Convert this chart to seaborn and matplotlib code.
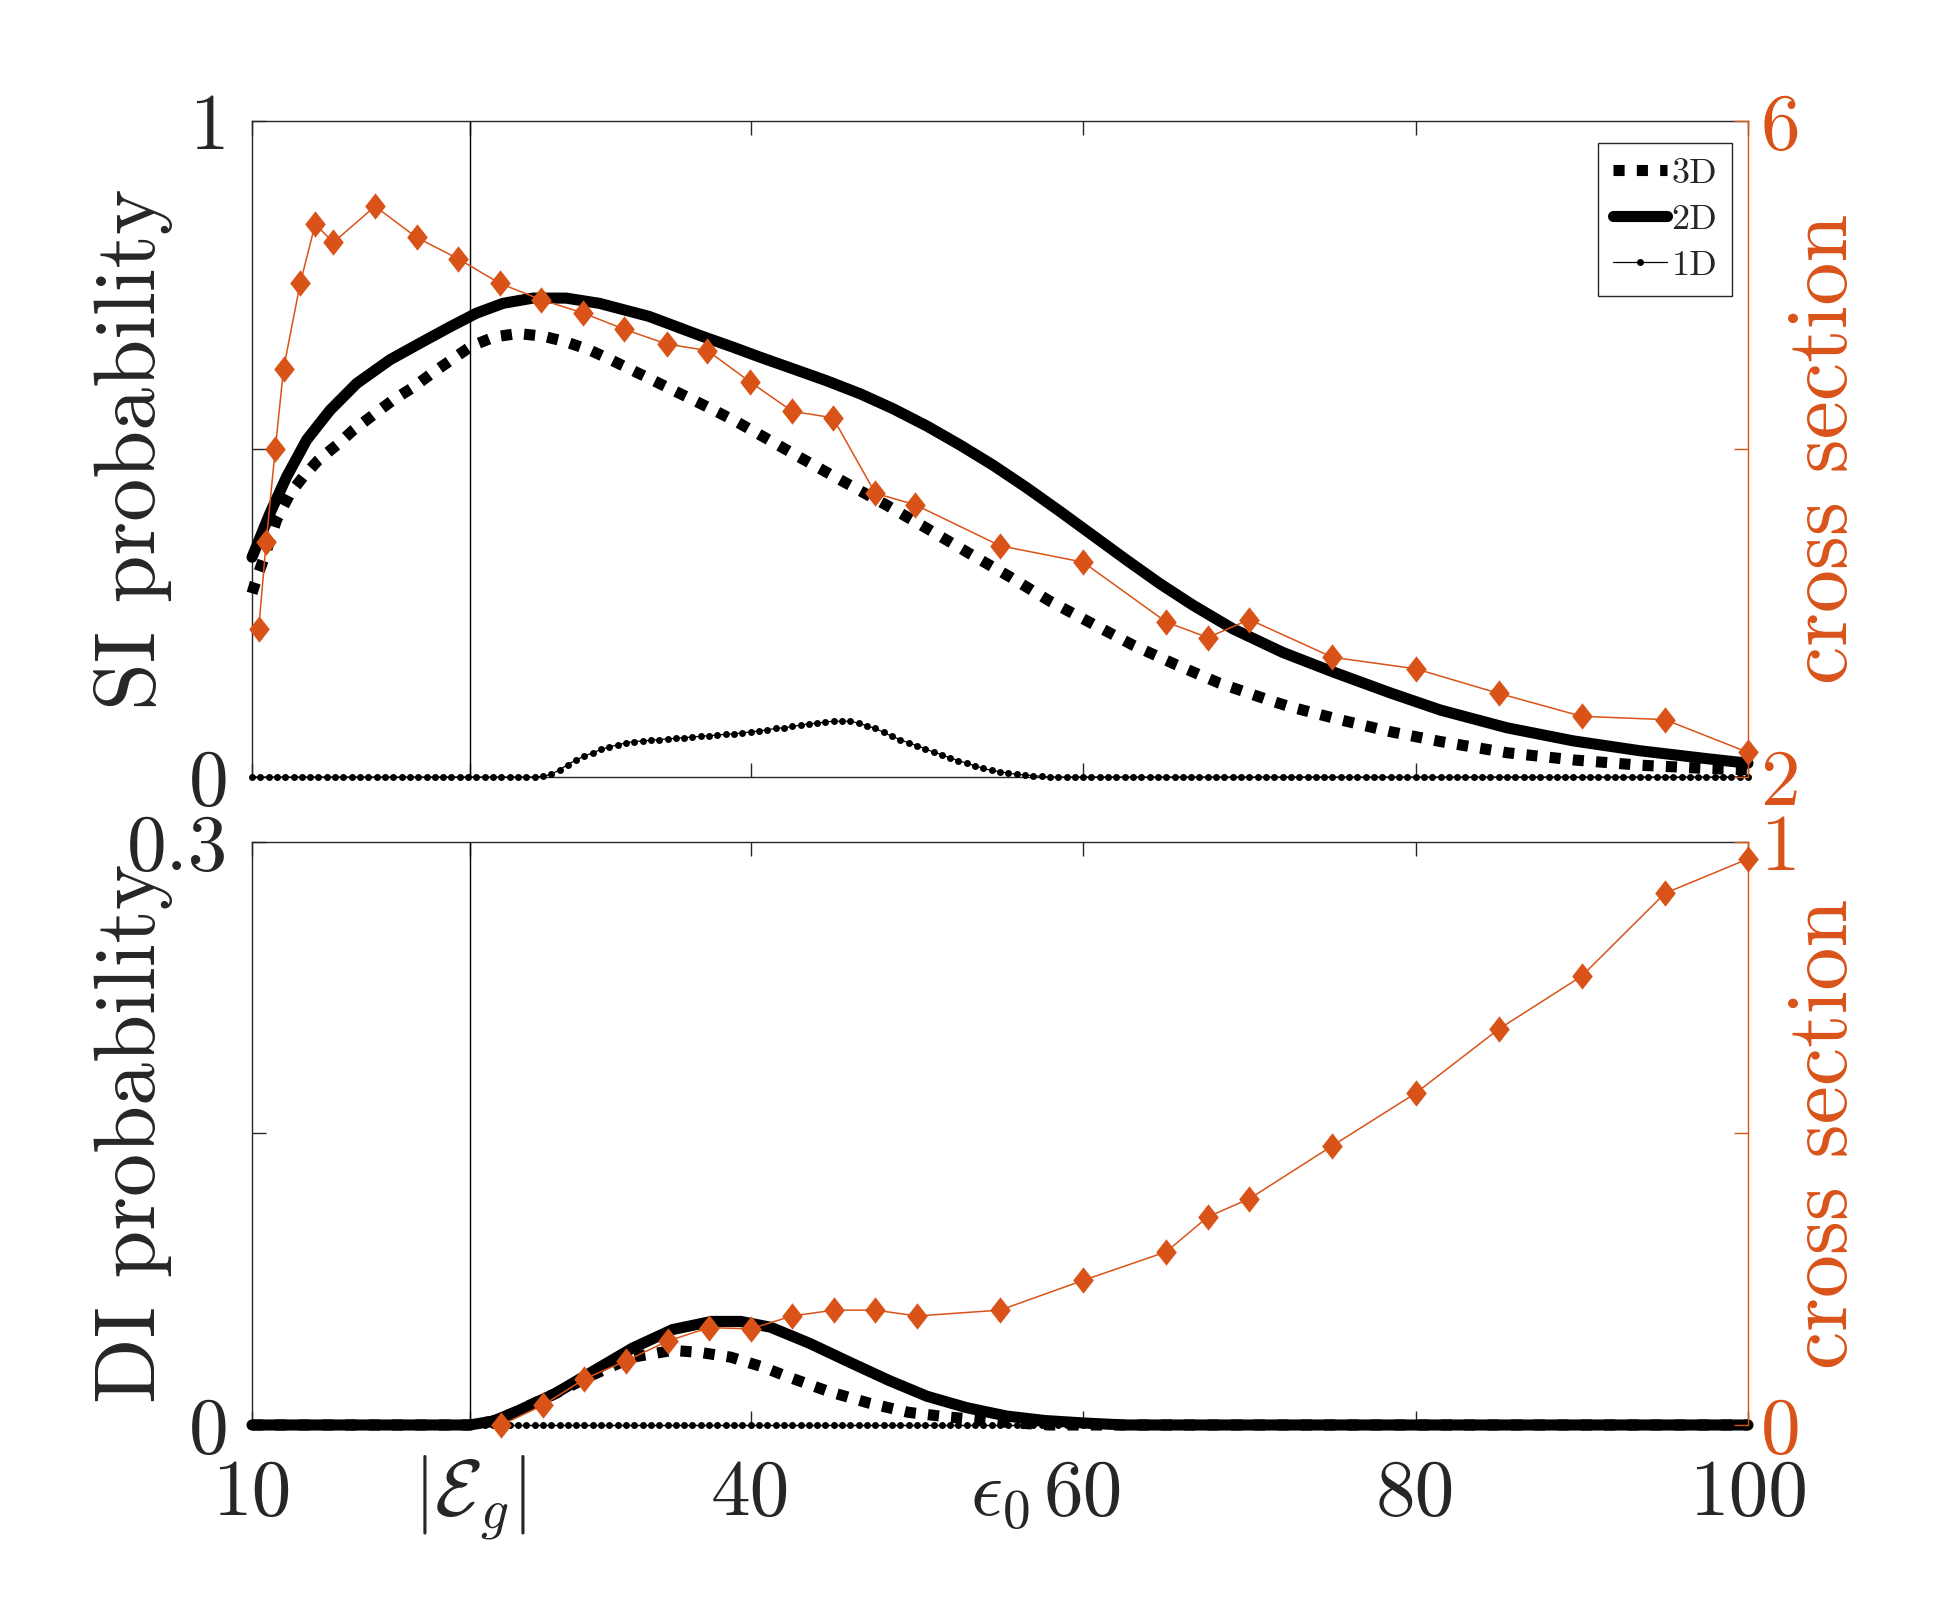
import numpy as np
import pandas as pd
import matplotlib
matplotlib.use("Agg")
import matplotlib.pyplot as plt
import seaborn as sns
from matplotlib.path import Path

# ---------------- data ----------------
EG = 23.1      # |E_g| position
EPS0 = 55.0    # epsilon_0 position

# SI probability (top panel, left axis)
si2d_x = [10, 10.18, 11.08, 12.09, 13.29, 14.69, 16.3, 18.3, 20.3, 21.9, 23.5, 25.1, 26.9,
          28.9, 30.9, 33.9, 36.95, 38.96, 40.56, 42.57, 44.57, 46.6, 48.6, 50.6, 52.6, 54.6,
          56.6, 58.6, 60.6, 62.6, 64.6, 66.6, 69.0, 72.0, 75.05, 78.5, 81.5, 85.5, 89.5,
          93.5, 97.5, 100]
si2d_y = [0.335, 0.346, 0.402, 0.458, 0.514, 0.559, 0.600, 0.636, 0.664, 0.686, 0.707, 0.722,
          0.730, 0.730, 0.722, 0.702, 0.673, 0.655, 0.640, 0.622, 0.604, 0.584, 0.561, 0.535,
          0.506, 0.475, 0.441, 0.405, 0.368, 0.331, 0.295, 0.262, 0.226, 0.190, 0.160,
          0.128, 0.102, 0.075, 0.055, 0.040, 0.028, 0.021]

si3d_x = [10, 10.18, 10.8, 11.48, 12.29, 13.09, 13.99, 15.1, 16.1, 17.3, 18.5, 19.7, 20.8,
          22.0, 23.2, 24.6, 26.0, 27.5, 28.8, 30.3, 31.5, 32.8, 34.1, 35.3, 36.6, 37.96,
          39.26, 40.46, 42.97, 45.6, 48.2, 50.6, 53.0, 55.6, 58.0, 60.6, 63.0, 65.6, 68.2,
          71.2, 72.45, 75.5, 78.5, 81.5, 85.5, 89.5, 93.5, 97.5, 100]
si3d_y = [0.28, 0.295, 0.34, 0.392, 0.432, 0.458, 0.483, 0.506, 0.529, 0.552, 0.575, 0.594,
          0.615, 0.636, 0.657, 0.671, 0.676, 0.672, 0.664, 0.651, 0.637, 0.621, 0.605, 0.590,
          0.574, 0.557, 0.540, 0.523, 0.487, 0.450, 0.414, 0.379, 0.343, 0.305, 0.268,
          0.233, 0.201, 0.171, 0.143, 0.117, 0.107, 0.087, 0.069, 0.054, 0.037, 0.026,
          0.018, 0.013, 0.011]

# 1D: sampled every 0.5 from 10 to 100
si1d_x = [10 + 0.5 * i for i in range(181)]
si1d_y = ([0.0] * 35 +
          [0.001, 0.004, 0.011, 0.019, 0.026, 0.032, 0.037, 0.042, 0.046, 0.049, 0.052,
           0.054, 0.055, 0.056, 0.057, 0.058, 0.059, 0.060, 0.061, 0.062, 0.063, 0.064,
           0.065, 0.066, 0.067, 0.069, 0.070, 0.072, 0.074, 0.075, 0.077, 0.079, 0.081,
           0.082, 0.084, 0.085, 0.085, 0.085, 0.082, 0.078, 0.074, 0.068, 0.062, 0.057,
           0.052, 0.048, 0.043, 0.038, 0.034, 0.029, 0.025, 0.021, 0.017, 0.013, 0.010,
           0.008, 0.006, 0.004, 0.003, 0.002, 0.001] +
          [0.0] * 85)

# SI cross section (top panel, right axis)
si_cs_x = [10.4, 10.85, 11.4, 11.9, 12.9, 13.8, 14.9, 17.4, 19.9, 22.4, 24.9, 27.4, 29.9,
           32.4, 34.95, 37.4, 39.95, 42.5, 44.95, 47.5, 49.9, 55.0, 60.0, 65.0, 67.5, 70.0,
           75.0, 80.0, 85.0, 90.0, 95.0, 100.0]
si_cs_y = [2.90, 3.43, 4.00, 4.49, 5.01, 5.37, 5.26, 5.48, 5.29, 5.16, 5.01, 4.91, 4.83,
           4.73, 4.64, 4.60, 4.41, 4.23, 4.19, 3.73, 3.66, 3.41, 3.31, 2.945, 2.85, 2.96,
           2.73, 2.66, 2.51, 2.37, 2.35, 2.15]

# DI probability (bottom panel, left axis)
di2d_x = [10, 23.1, 24.5, 25.8, 28.2, 30.55, 32.9, 35.3, 37.65, 39.4, 41.2, 43.55, 45.9,
          48.3, 50.6, 53.0, 55.4, 57.7, 60.1, 62.5, 100]
di2d_y = [0, 0, 0.002, 0.0065, 0.016, 0.0278, 0.0396, 0.0491, 0.0533, 0.0533, 0.0503, 0.042,
          0.0325, 0.023, 0.0148, 0.0089, 0.0046, 0.0023, 0.001, 0, 0]

di3d_x = [10, 23.1, 24.5, 25.8, 28.2, 30.55, 32.9, 35.3, 37.0, 38.8, 40.6, 42.4, 44.7, 47.1,
          49.5, 51.8, 54.2, 56.0, 58.0, 100]
di3d_y = [0, 0, 0.002, 0.0065, 0.016, 0.026, 0.0349, 0.0384, 0.0373, 0.0349, 0.0302, 0.0243,
          0.0172, 0.0113, 0.0065, 0.0042, 0.0023, 0.001, 0, 0]

di1d_x = [10 + 0.5 * i for i in range(181)]
di1d_y = [0.0] * 181

# DI cross section (bottom panel, right axis)
di_cs_x = [25.0, 27.5, 30.0, 32.5, 35.0, 37.5, 40.0, 42.5, 45.0, 47.5, 50.0, 55.0, 60.0,
           65.0, 67.5, 70.0, 75.0, 80.0, 85.0, 90.0, 95.0, 100.0]
di_cs_y = [0.0, 0.034, 0.079, 0.110, 0.144, 0.167, 0.165, 0.187, 0.197, 0.197, 0.187, 0.197,
           0.248, 0.297, 0.357, 0.388, 0.479, 0.569, 0.679, 0.770, 0.912, 0.971]

xtick_vals = [10, EG, 40, 60, 80, 100]
xtick_labels = ["10", r"$|\mathcal{E}_g|$", "40", "60", "80", "100"]

# ---------------- style ----------------
sns.set_style("white")
plt.rcParams["font.family"] = ["cmr10", "DejaVu Sans"]
plt.rcParams["mathtext.fontset"] = "cm"
plt.rcParams["axes.unicode_minus"] = False

ORANGE = "#D95319"
GRAY = "#262626"
TICK_FS = 57
LABEL_FS = 62
LW_THICK = 8.0
DOT_STYLE = (0, (1.0, 1.1))

diamond = Path([(0, 1), (0.78, 0), (0, -1), (-0.78, 0), (0, 1)],
               [Path.MOVETO, Path.LINETO, Path.LINETO, Path.LINETO, Path.CLOSEPOLY])

fig = plt.figure(figsize=(19.36, 16.04), dpi=100)
ax1 = fig.add_axes([0.13017, 0.51559, 0.77273, 0.40898])
ax2 = fig.add_axes([0.13017, 0.11160, 0.77273, 0.36347])


def draw_black(ax, x3, y3, x2, y2, x1, y1):
    ax.axvline(EG, color="black", lw=1.0, zorder=1)
    sns.lineplot(x=x3, y=y3, ax=ax, color="black", lw=LW_THICK, linestyle=DOT_STYLE,
                 label="3D", clip_on=False, zorder=3)
    sns.lineplot(x=x2, y=y2, ax=ax, color="black", lw=LW_THICK, label="2D",
                 clip_on=False, zorder=3)
    sns.lineplot(x=x1, y=y1, ax=ax, color="black", lw=0.9, marker="o", markersize=5.0,
                 markeredgewidth=0, label="1D", clip_on=False, zorder=4)


def draw_orange(ax, x, y):
    sns.lineplot(x=x, y=y, ax=ax, color=ORANGE, lw=1.1, marker=diamond, markersize=19,
                 markeredgewidth=0, markerfacecolor=ORANGE, clip_on=False, zorder=5)


draw_black(ax1, si3d_x, si3d_y, si2d_x, si2d_y, si1d_x, si1d_y)
draw_black(ax2, di3d_x, di3d_y, di2d_x, di2d_y, di1d_x, di1d_y)

ax1r = ax1.twinx()
ax2r = ax2.twinx()
draw_orange(ax1r, si_cs_x, si_cs_y)
draw_orange(ax2r, di_cs_x, di_cs_y)

for ax in (ax1, ax2):
    ax.set_xlim(10, 100)
    ax.set_xticks(xtick_vals)
    ax.tick_params(axis="x", which="major", direction="in", top=True, bottom=True,
                   length=10, width=1.0, color=GRAY, labelsize=TICK_FS, labelcolor=GRAY,
                   pad=65)
    ax.tick_params(axis="y", direction="in", left=True, right=False, length=10, width=1.0,
                   color=GRAY, labelsize=TICK_FS, labelcolor=GRAY, pad=17)
    for s in ("left", "top", "bottom"):
        ax.spines[s].set_color(GRAY)
        ax.spines[s].set_linewidth(1.0)
    ax.spines["right"].set_visible(False)
    ax.set_xlabel("")
    if ax.get_legend() is not None:
        ax.get_legend().remove()

ax1.set_xticklabels([""] * len(xtick_vals))
ax2.set_xticklabels(xtick_labels)
ax2.set_xticks([EPS0], minor=True)
ax2.set_xticklabels([r"$\epsilon_0$"], minor=True)
ax2.tick_params(axis="x", which="minor", length=0, labelsize=TICK_FS, labelcolor=GRAY,
                pad=65)
for lab in ax2.get_xticklabels(which="both"):
    lab.set_verticalalignment("baseline")

ax1.set_ylim(0, 1)
ax1.set_yticks([0, 0.5, 1])
ax1.set_yticklabels(["0", "", "1"])
ax2.set_ylim(0, 0.3)
ax2.set_yticks([0, 0.15, 0.3])
ax2.set_yticklabels(["0", "", "0.3"])

ax1r.set_ylim(2, 6)
ax1r.set_yticks([2, 4, 6])
ax1r.set_yticklabels(["2", "", "6"])
ax2r.set_ylim(0, 1)
ax2r.set_yticks([0, 0.5, 1])
ax2r.set_yticklabels(["0", "", "1"])
for axr in (ax1r, ax2r):
    axr.tick_params(axis="y", direction="in", right=True, left=False, length=10, width=1.0,
                    color=ORANGE, labelsize=TICK_FS, labelcolor=ORANGE, pad=9)
    for s in ("left", "top", "bottom"):
        axr.spines[s].set_visible(False)
    axr.spines["right"].set_color(ORANGE)
    axr.spines["right"].set_linewidth(1.0)
    axr.set_ylabel("cross section", fontsize=LABEL_FS, color=ORANGE)
    axr.yaxis.set_label_coords(1.026, 0.5)
    axr.set_xlim(10, 100)

ax1.set_ylabel("SI probability", fontsize=LABEL_FS, color=GRAY)
ax2.set_ylabel("DI probability", fontsize=LABEL_FS, color=GRAY)
ax1.yaxis.set_label_coords(-0.053, 0.5)
ax2.yaxis.set_label_coords(-0.053, 0.5)

# legend drawn on the (upper) twin axis so it sits above the orange series
h, l = ax1.get_legend_handles_labels()
leg = ax1r.legend(h, l, loc="upper right", bbox_to_anchor=(0.989, 0.966), borderaxespad=0,
                  fontsize=26, handlelength=1.5, handletextpad=0.12, borderpad=0.4,
                  labelspacing=0.38, fancybox=False, framealpha=1, edgecolor=GRAY)
leg.get_frame().set_linewidth(1.0)

fig.savefig("out.png", dpi=100, facecolor="white")
